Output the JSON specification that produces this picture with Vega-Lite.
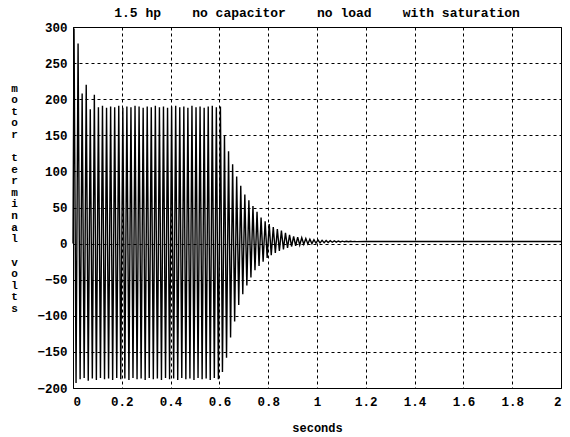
{
  "$schema": "https://vega.github.io/schema/vega-lite/v6.json",
  "width": 488,
  "height": 361,
  "autosize": {"type": "none"},
  "padding": {"left": 73, "top": 27, "right": 9, "bottom": 49},
  "background": "white",
  "title": {"text": "1.5 hp\u00a0\u00a0\u00a0\u00a0no capacitor\u00a0\u00a0\u00a0\u00a0no load\u00a0\u00a0\u00a0\u00a0with saturation", "anchor": "middle", "offset": 1, "font": "Liberation Mono", "fontSize": 13, "fontWeight": "bold", "color": "black"},
  "config": {
    "view": {"stroke": "black", "strokeWidth": 1},
    "axis": {"labelFont": "Liberation Mono", "labelFontWeight": "bold", "labelFontSize": 12.5, "labelColor": "black", "titleFont": "Liberation Mono", "titleFontWeight": "bold", "titleColor": "black", "domain": false, "ticks": false, "grid": true, "gridColor": "black", "gridDash": [3, 3], "gridOpacity": 1, "gridWidth": 1}
  },
  "data": {"values": [
    {"t": 0, "v": 0},
    {"t": 0.0042, "v": 298}, {"t": 0.0125, "v": -193},
    {"t": 0.0208, "v": 277}, {"t": 0.0292, "v": -188},
    {"t": 0.0375, "v": 208}, {"t": 0.0458, "v": -186},
    {"t": 0.0542, "v": 220}, {"t": 0.0625, "v": -190},
    {"t": 0.0708, "v": 186}, {"t": 0.0792, "v": -187},
    {"t": 0.0875, "v": 206}, {"t": 0.0958, "v": -189},
    {"t": 0.1042, "v": 189}, {"t": 0.1125, "v": -186},
    {"t": 0.1208, "v": 191}, {"t": 0.1292, "v": -188},
    {"t": 0.1375, "v": 188}, {"t": 0.1458, "v": -187},
    {"t": 0.1542, "v": 190}, {"t": 0.1625, "v": -189},
    {"t": 0.1708, "v": 189}, {"t": 0.1792, "v": -186},
    {"t": 0.1875, "v": 191}, {"t": 0.1958, "v": -188},
    {"t": 0.2042, "v": 188}, {"t": 0.2125, "v": -187},
    {"t": 0.2208, "v": 190}, {"t": 0.2292, "v": -189},
    {"t": 0.2375, "v": 189}, {"t": 0.2458, "v": -186},
    {"t": 0.2542, "v": 191}, {"t": 0.2625, "v": -188},
    {"t": 0.2708, "v": 190}, {"t": 0.2792, "v": -187},
    {"t": 0.2875, "v": 188}, {"t": 0.2958, "v": -189},
    {"t": 0.3042, "v": 190}, {"t": 0.3125, "v": -186},
    {"t": 0.3208, "v": 189}, {"t": 0.3292, "v": -188},
    {"t": 0.3375, "v": 191}, {"t": 0.3458, "v": -187},
    {"t": 0.3542, "v": 189}, {"t": 0.3625, "v": -189},
    {"t": 0.3708, "v": 190}, {"t": 0.3792, "v": -186},
    {"t": 0.3875, "v": 188}, {"t": 0.3958, "v": -188},
    {"t": 0.4042, "v": 190}, {"t": 0.4125, "v": -187},
    {"t": 0.4208, "v": 191}, {"t": 0.4292, "v": -189},
    {"t": 0.4375, "v": 189}, {"t": 0.4458, "v": -186},
    {"t": 0.4542, "v": 190}, {"t": 0.4625, "v": -188},
    {"t": 0.4708, "v": 188}, {"t": 0.4792, "v": -187},
    {"t": 0.4875, "v": 191}, {"t": 0.4958, "v": -189},
    {"t": 0.5042, "v": 189}, {"t": 0.5125, "v": -186},
    {"t": 0.5208, "v": 190}, {"t": 0.5292, "v": -188},
    {"t": 0.5375, "v": 188}, {"t": 0.5458, "v": -187},
    {"t": 0.5542, "v": 190}, {"t": 0.5625, "v": -189},
    {"t": 0.5708, "v": 191}, {"t": 0.5792, "v": -186},
    {"t": 0.5875, "v": 189}, {"t": 0.5958, "v": -188},
    {"t": 0.6042, "v": 190}, {"t": 0.6125, "v": -178},
    {"t": 0.6208, "v": 150}, {"t": 0.6292, "v": -158},
    {"t": 0.6375, "v": 128}, {"t": 0.6458, "v": -130},
    {"t": 0.6542, "v": 110}, {"t": 0.6625, "v": -108},
    {"t": 0.6708, "v": 93}, {"t": 0.6792, "v": -85},
    {"t": 0.6875, "v": 80}, {"t": 0.6958, "v": -70},
    {"t": 0.7042, "v": 68}, {"t": 0.7125, "v": -58},
    {"t": 0.7208, "v": 60}, {"t": 0.7292, "v": -47},
    {"t": 0.7375, "v": 52}, {"t": 0.7458, "v": -37},
    {"t": 0.7542, "v": 44}, {"t": 0.7625, "v": -31},
    {"t": 0.7708, "v": 36}, {"t": 0.7792, "v": -25},
    {"t": 0.7875, "v": 31}, {"t": 0.7958, "v": -20},
    {"t": 0.8042, "v": 27}, {"t": 0.8125, "v": -16},
    {"t": 0.8208, "v": 23}, {"t": 0.8292, "v": -13},
    {"t": 0.8375, "v": 20}, {"t": 0.8458, "v": -10},
    {"t": 0.8542, "v": 18}, {"t": 0.8625, "v": -8},
    {"t": 0.8708, "v": 15}, {"t": 0.8792, "v": -6},
    {"t": 0.8875, "v": 12}, {"t": 0.8958, "v": -4},
    {"t": 0.9042, "v": 10}, {"t": 0.9125, "v": -3},
    {"t": 0.9208, "v": 9}, {"t": 0.9292, "v": -2},
    {"t": 0.9375, "v": 8}, {"t": 0.9458, "v": -1},
    {"t": 0.9542, "v": 7}, {"t": 0.9625, "v": -0.5},
    {"t": 0.9708, "v": 6}, {"t": 0.9792, "v": 0},
    {"t": 0.9875, "v": 5.5}, {"t": 0.9958, "v": 0.5},
    {"t": 1.0042, "v": 5}, {"t": 1.0125, "v": 1},
    {"t": 1.0208, "v": 4.6}, {"t": 1.0292, "v": 1.3},
    {"t": 1.0375, "v": 4.3}, {"t": 1.0458, "v": 1.6},
    {"t": 1.0542, "v": 4}, {"t": 1.0625, "v": 1.9},
    {"t": 1.0708, "v": 3.8}, {"t": 1.0792, "v": 2.1},
    {"t": 1.0875, "v": 3.6}, {"t": 1.0958, "v": 2.3},
    {"t": 1.1042, "v": 3.4}, {"t": 1.1125, "v": 2.5},
    {"t": 1.1208, "v": 3.3}, {"t": 1.1292, "v": 2.6},
    {"t": 1.1375, "v": 3.2}, {"t": 1.1458, "v": 2.7},
    {"t": 1.1542, "v": 3.1}, {"t": 1.1625, "v": 2.8},
    {"t": 1.2, "v": 3},
    {"t": 2.0, "v": 3}
  ]},
  "mark": {"type": "line", "color": "black", "strokeWidth": 1.4},
  "encoding": {
    "x": {"field": "t", "type": "quantitative",
      "scale": {"domain": [0, 2], "nice": false, "zero": false},
      "axis": {"values": [0, 0.2, 0.4, 0.6, 0.8, 1, 1.2, 1.4, 1.6, 1.8, 2], "format": "~g", "labelPadding": 7,
        "title": "seconds", "titleFontSize": 12, "titleX": 244, "titleY": 39, "titleAlign": "center", "titleBaseline": "middle"}},
    "y": {"field": "v", "type": "quantitative",
      "scale": {"domain": [-200, 300], "nice": false, "zero": false},
      "axis": {"values": [-200, -150, -100, -50, 0, 50, 100, 150, 200, 250, 300], "labelPadding": 6,
        "title": ["m", "o", "t", "o", "r", "\u200b", "t", "e", "r", "m", "i", "n", "a", "l", "\u200b", "v", "o", "l", "t", "s"],
        "titleAngle": 0, "titleFontSize": 11, "titleLineHeight": 11.6, "titleX": -59, "titleY": 55, "titleAlign": "center", "titleBaseline": "top"}}
  }
}
